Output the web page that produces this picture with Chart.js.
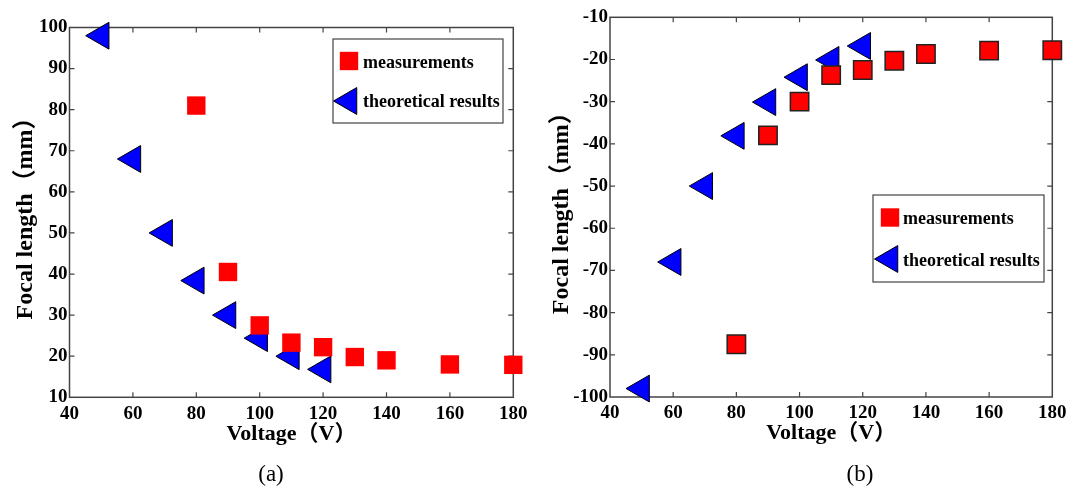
<!DOCTYPE html>
<html>
<head>
<meta charset="utf-8">
<script src="https://cdn.jsdelivr.net/npm/chart.js@4/dist/chart.umd.min.js"></script>
<style>
  html, body { margin: 0; padding: 0; background: #fff; }
  #wrap { position: relative; width: 1079px; height: 487px; overflow: hidden; }
  canvas { position: absolute; top: 0; }
  #chartA { left: 0; }
  #chartB { left: 540px; }
  .cap { position: absolute; top: 460px; width: 60px; margin-left: -30px; text-align: center;
         font: 23px "Liberation Serif", serif; color: #000; line-height: 28px; }
</style>
</head>
<body>
<div id="wrap">
  <canvas id="chartA" width="540" height="487"></canvas>
  <canvas id="chartB" width="539" height="487"></canvas>
  <div class="cap" style="left:271px">(a)</div>
  <div class="cap" style="left:860px">(b)</div>
</div>
<script>
// voltages (V)
const measVolts = [80, 90, 100, 110, 120, 130, 140, 160, 180];
const theoVolts = [50, 60, 70, 80, 90, 100, 110, 120];

// (a) focal length (mm)
const measFocalA = [81, 40.5, 27.5, 23.3, 22.2, 19.8, 19, 18, 17.9];
const theoFocalA = [98, 68, 50, 38.4, 30, 24.4, 20, 16.8];

// (b) focal length (mm)
const measFocalB = [-87.5, -38, -30, -23.7, -22.5, -20.3, -18.7, -17.9, -17.8];
const theoFocalB = [-98, -68, -50, -38.1, -30.1, -24.2, -20.1, -16.8];

const seriesNames = ['measurements', 'theoretical results'];

const FONT = "'Liberation Serif', 'Noto Sans CJK SC', serif";
const AXIS = '#444';

function points(xs, ys) {
  return xs.map((x, i) => ({ x, y: ys[i] }));
}

// box around the plot, with small inward ticks on all four sides
const framePlugin = {
  id: 'frame',
  beforeDatasetsDraw(chart) {
    const { ctx, chartArea: a, scales: { x, y } } = chart;
    const len = 5;
    ctx.save();
    ctx.strokeStyle = AXIS;
    ctx.lineWidth = 1.5;
    ctx.strokeRect(a.left, a.top, a.right - a.left, a.bottom - a.top);
    ctx.lineWidth = 1.2;
    ctx.beginPath();
    x.ticks.forEach(t => {
      const px = x.getPixelForValue(t.value);
      if (px <= a.left + 1 || px >= a.right - 1) return;
      ctx.moveTo(px, a.bottom); ctx.lineTo(px, a.bottom - len);
      ctx.moveTo(px, a.top); ctx.lineTo(px, a.top + len);
    });
    y.ticks.forEach(t => {
      const py = y.getPixelForValue(t.value);
      if (py <= a.top + 1 || py >= a.bottom - 1) return;
      ctx.moveTo(a.left, py); ctx.lineTo(a.left + len, py);
      ctx.moveTo(a.right, py); ctx.lineTo(a.right - len, py);
    });
    ctx.stroke();
    ctx.restore();
  }
};

function drawSquare(ctx, ds, cx, cy) {
  const s = ds.pointRadius * Math.SQRT1_2;
  ctx.fillStyle = ds.backgroundColor;
  ctx.fillRect(cx - s, cy - s, 2 * s, 2 * s);
}

function drawLeftTriangle(ctx, ds, cx, cy) {
  const r = ds.pointRadius;
  ctx.beginPath();
  ctx.moveTo(cx - r, cy);
  ctx.lineTo(cx + r / 2, cy - r * Math.sqrt(3) / 2);
  ctx.lineTo(cx + r / 2, cy + r * Math.sqrt(3) / 2);
  ctx.closePath();
  ctx.fillStyle = ds.backgroundColor;
  ctx.fill();
  ctx.strokeStyle = ds.borderColor;
  ctx.lineWidth = ds.borderWidth;
  ctx.stroke();
}

// boxed legend sitting inside the plot
const boxLegend = {
  id: 'boxLegend',
  afterDraw(chart, args, opts) {
    const { ctx } = chart;
    const sets = chart.data.datasets;
    ctx.save();
    ctx.fillStyle = '#fff';
    ctx.fillRect(opts.x, opts.y, opts.w, opts.h);
    ctx.strokeStyle = AXIS;
    ctx.lineWidth = 1.2;
    ctx.strokeRect(opts.x, opts.y, opts.w, opts.h);
    drawSquare(ctx, sets[0], opts.markX, opts.rows[0]);
    drawLeftTriangle(ctx, sets[1], opts.markX, opts.rows[1]);
    ctx.fillStyle = '#000';
    ctx.font = 'bold 18px ' + FONT;
    ctx.textBaseline = 'alphabetic';
    ctx.textAlign = 'left';
    ctx.fillText(sets[0].label, opts.textX, opts.base[0]);
    ctx.fillText(sets[1].label, opts.textX, opts.base[1]);
    ctx.restore();
  }
};

function makeChart(id, meas, theo, yMin, yMax, cfg) {
  return new Chart(document.getElementById(id), {
    type: 'scatter',
    data: {
      datasets: [
        {
          label: seriesNames[0],
          data: points(measVolts, meas),
          pointStyle: 'rect',
          pointRadius: 13,
          backgroundColor: '#ff0000',
          borderColor: cfg.squareBorder,
          borderWidth: cfg.squareBorderWidth,
          clip: false
        },
        {
          label: seriesNames[1],
          data: points(theoVolts, theo),
          pointStyle: 'triangle',
          rotation: -90,
          pointRadius: 15.5,
          backgroundColor: '#0000ff',
          borderColor: '#000',
          borderWidth: 1,
          clip: false
        }
      ]
    },
    options: {
      responsive: false,
      animation: false,
      devicePixelRatio: 1,
      layout: { padding: cfg.padding },
      plugins: {
        legend: { display: false },
        tooltip: { enabled: false },
        boxLegend: cfg.legend
      },
      scales: {
        x: {
          type: 'linear',
          min: 40, max: 180,
          afterFit: s => { s.height = 60; },
          grid: { display: false, drawTicks: false },
          border: { display: false },
          ticks: { stepSize: 20, padding: 5, color: '#000', maxRotation: 0, autoSkip: false,
                   font: { family: FONT, size: 19, weight: 'bold' } },
          title: { display: true, text: 'Voltage（V）', color: '#000',
                   padding: { top: 0, bottom: 10 },
                   font: { family: FONT, size: 22, weight: 'bold' } }
        },
        y: {
          min: yMin, max: yMax,
          afterFit: s => { s.width = cfg.yWidth; },
          grid: { display: false, drawTicks: false },
          border: { display: false },
          ticks: { stepSize: 10, padding: 2, color: '#000',
                   font: { family: FONT, size: 19, weight: 'bold' } },
          title: { display: true, text: 'Focal length（mm）', color: '#000',
                   padding: { top: cfg.yTitlePad, bottom: 0 },
                   font: { family: FONT, size: 24, weight: 'bold' } }
        }
      }
    },
    plugins: [framePlugin, boxLegend]
  });
}

makeChart('chartA', measFocalA, theoFocalA, 10, 100, {
  padding: { left: 0, right: 26.7, top: 27.5, bottom: 29.7 },
  yWidth: 69.5,
  yTitlePad: 11,
  squareBorder: '#ff0000',
  squareBorderWidth: 0,
  legend: { x: 333, y: 39, w: 170, h: 84, markX: 349, rows: [61, 101], textX: 363, base: [68, 107] }
});

makeChart('chartB', measFocalB, theoFocalB, -100, -10, {
  padding: { left: 0, right: 26.7, top: 17.3, bottom: 30 },
  yWidth: 70,
  yTitlePad: 7,
  squareBorder: '#222',
  squareBorderWidth: 1.5,
  legend: { x: 333, y: 195, w: 171, h: 87, markX: 350, rows: [217.5, 259], textX: 363, base: [224, 266] }
});
</script>
</body>
</html>
